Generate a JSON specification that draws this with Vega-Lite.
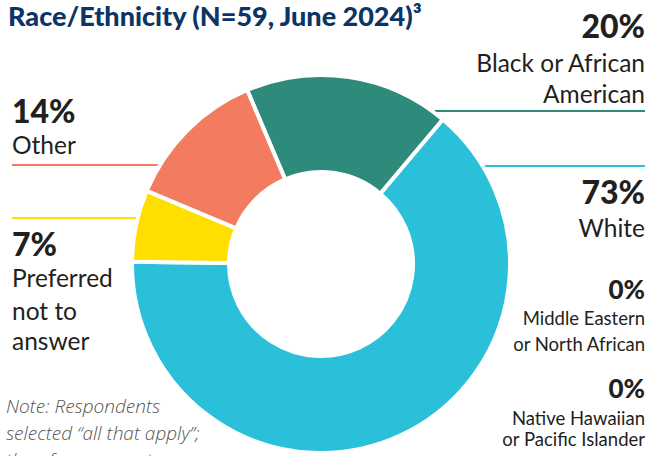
{
  "$schema": "https://vega.github.io/schema/vega-lite/v6.json",
  "autosize": {"type": "none"},
  "padding": {"left": 0, "right": 7, "top": 72, "bottom": 0},
  "width": 642,
  "height": 384,
  "background": "white",
  "config": {"view": {"stroke": null}, "text": {"font": "Lato"}},
  "datasets": {
    "slices": [
      {"group": "Black or African American", "pct": 20, "order": 1},
      {"group": "White", "pct": 73, "order": 2},
      {"group": "Preferred not to answer", "pct": 7, "order": 3},
      {"group": "Other", "pct": 14, "order": 4}
    ],
    "leaders": [
      {"group": "Black or African American", "x": 400, "x2": 645, "y": 111},
      {"group": "White", "x": 450, "x2": 645, "y": 166},
      {"group": "Other", "x": 12, "x2": 180, "y": 165},
      {"group": "Preferred not to answer", "x": 12, "x2": 160, "y": 218}
    ],
    "labels": [
      {"role": "title", "text": "Race/Ethnicity (N=59, June 2024)³", "x": 8, "y": 26},
      {"role": "bigR", "text": "20%", "x": 645, "y": 38},
      {"role": "bigR", "text": "73%", "x": 645, "y": 204},
      {"role": "nameR", "text": "Black or African", "x": 645, "y": 72},
      {"role": "nameR", "text": "American", "x": 645, "y": 103},
      {"role": "nameR", "text": "White", "x": 645, "y": 237},
      {"role": "smallBigR", "text": "0%", "x": 645, "y": 299},
      {"role": "smallBigR", "text": "0%", "x": 645, "y": 398},
      {"role": "smallNameR", "text": "Middle Eastern", "x": 645, "y": 325},
      {"role": "smallNameR", "text": "or North African", "x": 645, "y": 351},
      {"role": "smallNameR", "text": "Native Hawaiian", "x": 645, "y": 425},
      {"role": "smallNameR", "text": "or Pacific Islander", "x": 645, "y": 446},
      {"role": "bigL", "text": "14%", "x": 12, "y": 123},
      {"role": "bigL", "text": "7%", "x": 12, "y": 256},
      {"role": "nameL", "text": "Other", "x": 12, "y": 154},
      {"role": "nameL", "text": "Preferred", "x": 12, "y": 287},
      {"role": "nameL", "text": "not to", "x": 12, "y": 320},
      {"role": "nameL", "text": "answer", "x": 12, "y": 350},
      {"role": "note", "text": "Note: Respondents", "x": 6, "y": 413},
      {"role": "note", "text": "selected “all that apply”;", "x": 6, "y": 440},
      {"role": "note", "text": "therefore, percentages may", "x": 6, "y": 467}
    ]
  },
  "layer": [
    {
      "data": {"name": "leaders"},
      "mark": {"type": "rule", "strokeWidth": 2},
      "encoding": {
        "x": {"field": "x", "type": "quantitative", "scale": {"domain": [0, 642], "nice": false, "zero": false}, "axis": null},
        "x2": {"field": "x2"},
        "y": {"field": "y", "type": "quantitative", "scale": {"domain": [72, 456], "reverse": true, "nice": false, "zero": false}, "axis": null},
        "color": {"field": "group", "type": "nominal", "legend": null,
          "scale": {"domain": ["Black or African American", "White", "Preferred not to answer", "Other"],
                    "range": ["#2e8a7a", "#2bc0da", "#ffde00", "#f37b5f"]}}
      }
    },
    {
      "data": {"name": "slices"},
      "mark": {"type": "arc", "outerRadius": 189, "innerRadius": 92, "stroke": "white", "strokeWidth": 4},
      "encoding": {
        "theta": {"field": "pct", "type": "quantitative", "stack": true, "scale": {"range": [-0.4014, 5.8818]}},
        "order": {"field": "order", "type": "quantitative"},
        "color": {"field": "group", "type": "nominal", "legend": null}
      }
    },
    {
      "data": {"name": "labels"},
      "transform": [{"filter": "datum.role == 'title'"}],
      "mark": {"type": "text", "align": "left", "baseline": "alphabetic", "fontSize": 27, "fontWeight": 900, "color": "#0c3464"},
      "encoding": {"x": {"field": "x", "type": "quantitative"}, "y": {"field": "y", "type": "quantitative"}, "text": {"field": "text"}}
    },
    {
      "data": {"name": "labels"},
      "transform": [{"filter": "datum.role == 'bigR'"}],
      "mark": {"type": "text", "align": "right", "baseline": "alphabetic", "fontSize": 32, "fontWeight": 900, "color": "#231f20"},
      "encoding": {"x": {"field": "x", "type": "quantitative"}, "y": {"field": "y", "type": "quantitative"}, "text": {"field": "text"}}
    },
    {
      "data": {"name": "labels"},
      "transform": [{"filter": "datum.role == 'bigL'"}],
      "mark": {"type": "text", "align": "left", "baseline": "alphabetic", "fontSize": 32, "fontWeight": 900, "color": "#231f20"},
      "encoding": {"x": {"field": "x", "type": "quantitative"}, "y": {"field": "y", "type": "quantitative"}, "text": {"field": "text"}}
    },
    {
      "data": {"name": "labels"},
      "transform": [{"filter": "datum.role == 'nameR'"}],
      "mark": {"type": "text", "align": "right", "baseline": "alphabetic", "fontSize": 24.5, "color": "#231f20"},
      "encoding": {"x": {"field": "x", "type": "quantitative"}, "y": {"field": "y", "type": "quantitative"}, "text": {"field": "text"}}
    },
    {
      "data": {"name": "labels"},
      "transform": [{"filter": "datum.role == 'nameL'"}],
      "mark": {"type": "text", "align": "left", "baseline": "alphabetic", "fontSize": 24.5, "color": "#231f20"},
      "encoding": {"x": {"field": "x", "type": "quantitative"}, "y": {"field": "y", "type": "quantitative"}, "text": {"field": "text"}}
    },
    {
      "data": {"name": "labels"},
      "transform": [{"filter": "datum.role == 'smallBigR'"}],
      "mark": {"type": "text", "align": "right", "baseline": "alphabetic", "fontSize": 26, "fontWeight": 900, "color": "#231f20"},
      "encoding": {"x": {"field": "x", "type": "quantitative"}, "y": {"field": "y", "type": "quantitative"}, "text": {"field": "text"}}
    },
    {
      "data": {"name": "labels"},
      "transform": [{"filter": "datum.role == 'smallNameR'"}],
      "mark": {"type": "text", "align": "right", "baseline": "alphabetic", "fontSize": 18.5, "color": "#231f20"},
      "encoding": {"x": {"field": "x", "type": "quantitative"}, "y": {"field": "y", "type": "quantitative"}, "text": {"field": "text"}}
    },
    {
      "data": {"name": "labels"},
      "transform": [{"filter": "datum.role == 'note'"}],
      "mark": {"type": "text", "align": "left", "baseline": "alphabetic", "fontSize": 19, "font": "Open Sans", "fontStyle": "italic", "fontWeight": 300, "color": "#555555"},
      "encoding": {"x": {"field": "x", "type": "quantitative"}, "y": {"field": "y", "type": "quantitative"}, "text": {"field": "text"}}
    }
  ]
}
